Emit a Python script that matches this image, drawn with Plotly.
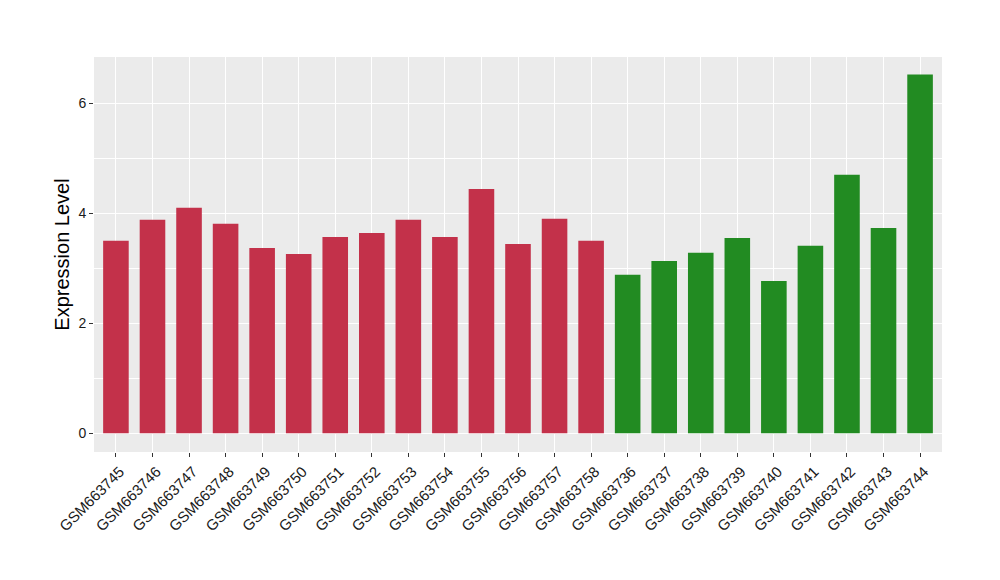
import plotly.graph_objects as go

samples = ["GSM663745", "GSM663746", "GSM663747", "GSM663748", "GSM663749", "GSM663750",
           "GSM663751", "GSM663752", "GSM663753", "GSM663754", "GSM663755", "GSM663756",
           "GSM663757", "GSM663758", "GSM663736", "GSM663737", "GSM663738", "GSM663739",
           "GSM663740", "GSM663741", "GSM663742", "GSM663743", "GSM663744"]
values = [3.50, 3.88, 4.10, 3.81, 3.37, 3.26, 3.57, 3.64, 3.88, 3.57, 4.44, 3.44,
          3.90, 3.50, 2.88, 3.13, 3.28, 3.55, 2.77, 3.41, 4.70, 3.73, 6.52]
groups = ["A"] * 14 + ["B"] * 9
group_colors = {"A": "#C3314A", "B": "#228B22"}

fig = go.Figure(go.Bar(
    x=list(range(len(samples))), y=values,
    marker=dict(color=[group_colors[g] for g in groups], line=dict(width=0)),
    width=0.7, showlegend=False,
))

fig.update_layout(
    width=1000, height=580,
    margin=dict(l=86, r=66, t=49, b=136),
    paper_bgcolor="white", plot_bgcolor="#EBEBEB",
    font=dict(family="Liberation Sans, Arial, sans-serif", color="#1a1a1a"),
    bargap=0.3,
)
fig.update_xaxes(
    range=[-0.6, len(samples) - 0.4], automargin=False,
    tickmode="array", tickvals=list(range(len(samples))), ticktext=samples,
    tickangle=-45, tickfont=dict(size=15, color="#1a1a1a"),
    ticklabelshift=4,
    showgrid=True, gridcolor="white", gridwidth=1.3,
    ticks="outside", ticklen=4, tickcolor="#333333", tickwidth=1,
    zeroline=False, showline=False,
)
fig.update_yaxes(
    range=[-0.34, 6.84], automargin=False,
    tickmode="array", tickvals=[0, 2, 4, 6], ticktext=["0", "2", "4", "6"],
    tickfont=dict(size=14, color="#1a1a1a"),
    showgrid=True, gridcolor="white", gridwidth=1.3,
    minor=dict(tickvals=[1, 3, 5], showgrid=True, gridcolor="white", gridwidth=0.6, ticks=""),
    ticks="outside", ticklen=4, tickcolor="#333333", tickwidth=1,
    zeroline=False, showline=False,
    title=dict(text="Expression Level", font=dict(size=20, color="black"), standoff=3),
)

fig.write_html("out.html")
